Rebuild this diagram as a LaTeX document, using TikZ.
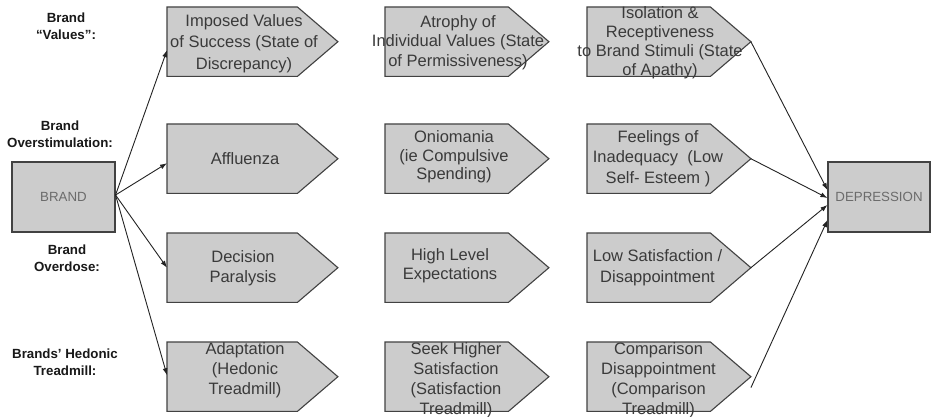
\documentclass[tikz,border=0pt]{standalone}
\usepackage{fontspec}
\setmainfont{Liberation Sans}
\usetikzlibrary{arrows.meta,calc}

\definecolor{boxfill}{RGB}{204,204,204}
\definecolor{boxline}{RGB}{66,66,66}
\definecolor{boxtext}{RGB}{58,58,58}
\definecolor{wire}{RGB}{35,35,35}

% #1 name, #2 left, #3 top, #4 body width, #5/#6 caption centre, #7 leading, #8 caption
\newcommand\arrowbox[8]{%
  \node[body, minimum width=#4pt] (#1) at (#2,#3) {};
  \coordinate (#1-tip) at ($(#1.east)+(40.5pt,0pt)$);
  \path[pentagon] (#1.north west) -- (#1.north east) -- (#1-tip)
        -- (#1.south east) -- (#1.south west) -- cycle;
  \node[caption, font=\fontsize{16.5}{#7}\selectfont] (#1-txt) at (#5,#6) {#8};
}

\begin{document}
\begin{tikzpicture}[x=1pt,y=-1pt,
  pentagon/.style={fill=boxfill, draw=boxline, line width=1.1pt, line join=miter},
  body/.style={rectangle, inner sep=0pt, minimum height=69pt, anchor=north west},
  caption/.style={align=center, inner sep=0pt, text=boxtext},
  endbox/.style={rectangle, fill=boxfill, draw=boxline, line width=1.1pt,
    minimum width=103pt, minimum height=70pt, inner sep=0pt,
    text=boxtext!75, font=\fontsize{13.3}{16}\selectfont},
  tag/.style={align=center, inner sep=0pt, text=black!90,
    font=\fontsize{13.3}{17}\selectfont\bfseries},
  link/.style={draw=wire, line width=0.9pt, -{Latex[length=7pt,width=5pt]}}
]
\fill[white] (0,0) rectangle (931,417);
\useasboundingbox (0,0) rectangle (931,417);

% row captions on the left
\node[tag] (tagvalues)  at (66,26)  {Brand\\“Values”:};
\node[tag] (tagover)    at (60,134) {Brand\\Overstimulation:};
\node[tag] (tagdose)    at (67,258) {Brand\\Overdose:};
\node[tag] (taghedonic) at (65,362) {Brands' Hedonic\\Treadmill:};

% source and sink
\node[endbox] (brand) at (63.5,197) {BRAND};
\node[endbox, minimum width=102pt] (dep) at (879,197) {DEPRESSION};

% first column
\arrowbox{c11}{167}{7}{130}{244}{43.5}{21.5}{Imposed Values\\of Success (State of\\Discrepancy)}
\arrowbox{c12}{167}{124}{130}{245}{159}{19.5}{Affluenza}
\arrowbox{c13}{167}{233}{130}{243}{268}{20.5}{Decision\\Paralysis}
\arrowbox{c14}{167}{342}{130}{245}{370}{20}{Adaptation\\(Hedonic\\Treadmill)}

% second column
\arrowbox{c21}{385}{7}{123}{458}{42.5}{19.5}{Atrophy of\\Individual Values (State\\of Permissiveness)}
\arrowbox{c22}{385}{124}{123}{454}{157}{18.5}{Oniomania\\(ie Compulsive\\Spending)}
\arrowbox{c23}{385}{233}{123}{450}{266}{19}{High Level\\Expectations}
\arrowbox{c24}{385}{342}{123}{456}{380}{20}{Seek Higher\\Satisfaction\\(Satisfaction\\Treadmill)}

% third column
\arrowbox{c31}{587}{7}{123}{660}{43}{19}{Isolation \&\\Receptiveness\\to Brand Stimuli (State\\of Apathy)}
\arrowbox{c32}{587}{124}{123}{658}{158.5}{20.5}{Feelings of\\Inadequacy~ (Low\\Self- Esteem )}
\arrowbox{c33}{587}{233}{123}{657.5}{267.5}{21}{Low Satisfaction /\\Disappointment}
\arrowbox{c34}{587}{342}{123}{658.5}{380}{20}{Comparison\\Disappointment\\(Comparison\\Treadmill)}

% BRAND fans out to the first column
\draw[link] ([yshift=2pt]brand.east) -- ([yshift=-8.5pt]c11.west);
\draw[link] ([yshift=2pt]brand.east) -- ([yshift=-4.5pt]c12.west);
\draw[link] ([yshift=2pt]brand.east) -- (c13.west);
\draw[link] ([yshift=2pt]brand.east) -- ([yshift=1.5pt]c14.west);

% third column converges on DEPRESSION
\draw[link] (c31-tip) -- ([yshift=7pt]dep.west);
\draw[link] (c32-tip) -- ([yshift=-1pt]dep.west);
\draw[link] (c33-tip) -- ([yshift=-8pt]dep.west);
\draw[link] ([yshift=-11pt]c34-tip) -- ([yshift=-23pt]dep.west);
\end{tikzpicture}
\end{document}
